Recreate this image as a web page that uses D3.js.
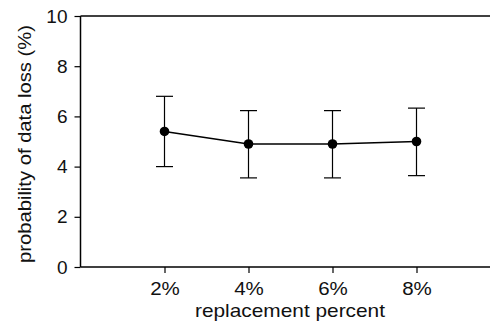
<!DOCTYPE html>
<html><head><meta charset="utf-8">
<script src="https://cdn.jsdelivr.net/npm/d3@7"></script>
<style>body{margin:0;background:#fff;}svg{display:block;}</style>
</head><body>
<script>
const categories = ["2%", "4%", "6%", "8%"];
const xValues = [2, 4, 6, 8];
const means = [5.4, 4.9, 4.9, 5.0];
const upper = [6.8, 6.23, 6.23, 6.33];
const lower = [4.0, 3.55, 3.55, 3.64];
const yTicks = [0, 2, 4, 6, 8, 10];

const W = 490, H = 325;
const svg = d3.select("body").append("svg").attr("width", W).attr("height", H);
const font = "'Liberation Sans', Arial, sans-serif";

const x = d3.scaleLinear().domain([0, 10]).range([80.5, 500.5]);
const y = d3.scaleLinear().domain([0, 10]).range([267, 16]);

svg.append("line").attr("x1", x(0)).attr("x2", W).attr("y1", y(10)).attr("y2", y(10))
  .attr("stroke", "#000").attr("stroke-width", 1.3);

const yAxis = svg.append("g").attr("transform", `translate(${x(0)},0)`)
  .call(d3.axisLeft(y).tickValues(yTicks).tickSize(6).tickPadding(7).tickFormat(d3.format("d")));
const xAxis = svg.append("g").attr("transform", `translate(0,${y(0)})`)
  .call(d3.axisBottom(x).tickValues(xValues).tickSize(6).tickPadding(9)
    .tickFormat((d, i) => categories[i]));

[yAxis, xAxis].forEach(g => {
  g.select(".domain").attr("stroke", "#000").attr("stroke-width", 1.5);
  g.selectAll(".tick line").attr("stroke", "#000").attr("stroke-width", 1.2);
  g.selectAll(".tick text").attr("font-family", font).attr("font-size", 19).attr("fill", "#111");
});
xAxis.selectAll(".tick text").attr("transform", function() {
  const tx = 0; return `scale(1.08,1)`;
});
xAxis.select(".domain").attr("d", `M${x(0)},0H${W}`);
yAxis.select(".domain").attr("d", `M0,${y(0)}V${y(10)}`);

const data = xValues.map((v, i) => ({x: v, m: means[i], hi: upper[i], lo: lower[i]}));
const eb = svg.append("g").attr("stroke", "#000").attr("stroke-width", 1.2);
data.forEach(d => {
  eb.append("line").attr("x1", x(d.x)).attr("x2", x(d.x)).attr("y1", y(d.lo)).attr("y2", y(d.hi));
  eb.append("line").attr("x1", x(d.x) - 8.5).attr("x2", x(d.x) + 8.5).attr("y1", y(d.lo)).attr("y2", y(d.lo));
  eb.append("line").attr("x1", x(d.x) - 8.5).attr("x2", x(d.x) + 8.5).attr("y1", y(d.hi)).attr("y2", y(d.hi));
});

svg.append("path").datum(data)
  .attr("d", d3.line().x(d => x(d.x)).y(d => y(d.m)))
  .attr("fill", "none").attr("stroke", "#000").attr("stroke-width", 1.5);

svg.selectAll("circle.pt").data(data).enter().append("circle")
  .attr("cx", d => x(d.x)).attr("cy", d => y(d.m)).attr("r", 4.8).attr("fill", "#000");

svg.append("text").attr("x", 290).attr("y", 316.5).attr("text-anchor", "middle")
  .attr("textLength", 190).attr("lengthAdjust", "spacingAndGlyphs")
  .attr("font-family", font).attr("font-size", 19).attr("fill", "#111").text("replacement percent");
svg.append("text").attr("transform", "translate(30.5,144) rotate(-90)").attr("text-anchor", "middle")
  .attr("textLength", 238).attr("lengthAdjust", "spacingAndGlyphs")
  .attr("font-family", font).attr("font-size", 19).attr("fill", "#111").text("probability of data loss (%)");
</script>
</body></html>
